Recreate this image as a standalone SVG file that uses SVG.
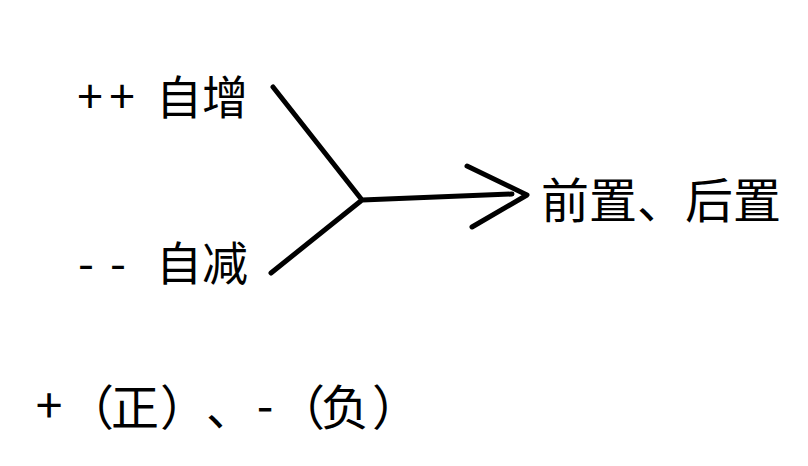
<svg xmlns="http://www.w3.org/2000/svg" width="808" height="466" viewBox="0 0 808 466">
<style>
text{font-family:"Noto Sans CJK SC","Noto Sans",sans-serif;font-size:46px;fill:#000}
.b{font-size:48px}
.m{text-anchor:middle}
.s{fill:none;stroke:#000;stroke-width:5;stroke-linecap:round;stroke-linejoin:round}
</style>
<rect width="808" height="466" fill="#fff"/>
<g id="inc"><text class="m" x="90" y="113">+</text><text class="m" x="122" y="113">+</text><text x="156" y="114">自增</text></g>
<g id="dec"><text class="m" x="86" y="280">-</text><text class="m" x="118" y="280">-</text><text x="156" y="280">自减</text></g>
<g id="pos"><text class="b" x="541" y="218">前置、后置</text></g>
<g id="sign" class="b">
<text class="b m" x="49" y="423">+</text>
<text class="b" x="66" y="425">（</text>
<text class="b" x="111" y="425">正</text>
<text class="b" x="160" y="425">）</text>
<text class="b" x="206" y="425">、</text>
<text class="b m" x="265" y="423">-</text>
<text class="b" x="277" y="425">（</text>
<text class="b" x="321" y="425">负</text>
<text class="b" x="372" y="425">）</text>
</g>
<g id="connectors">
<path class="s" d="M273,87 L362,200 M271,273 L362,200 L512,194"/>
<path class="s" d="M467,166 L527,195 L472,227"/>
</g>
</svg>
